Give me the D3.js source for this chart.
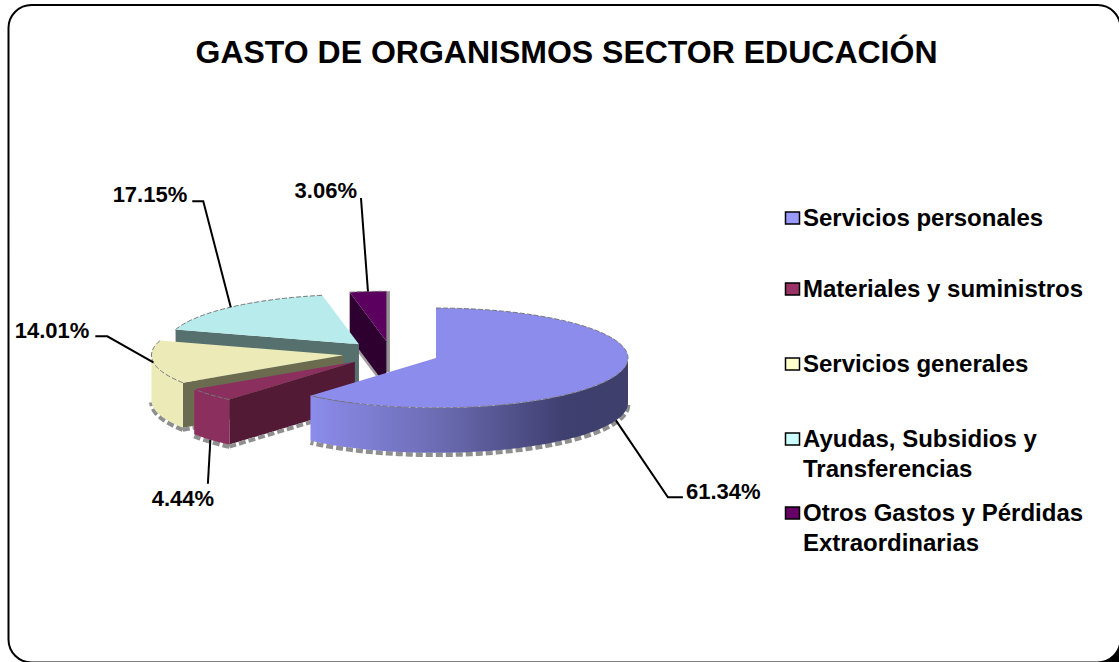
<!DOCTYPE html>
<html lang="es">

<head>
    <meta charset="utf-8">
    <title>Gasto de organismos sector educación</title>
    <script src="https://d3js.org/d3.v7.min.js"></script>
    <style>
        html, body { margin: 0; padding: 0; background: #fff; overflow: hidden; }
        svg { display: block; }
        text { font-family: "Liberation Sans", Arial, sans-serif; font-weight: bold; fill: #000; }
    </style>
</head>

<body>
    <div id="chart"></div>
    <script>
        // values
        var categories = ["Servicios personales", "Materiales y suministros", "Servicios generales", "Ayudas, Subsidios y Transferencias", "Otros Gastos y Pérdidas Extraordinarias"]
        var values = [61.34, 4.44, 14.01, 17.15, 3.06]
        var legendLines = [["Servicios personales"], ["Materiales y suministros"], ["Servicios generales"], ["Ayudas, Subsidios y", "Transferencias"], ["Otros Gastos y Pérdidas", "Extraordinarias"]]
        var topColors = ["#8c8cec", "#8a2f5e", "#ecebb8", "#b8ecec", "#5c0060"]
        var cutColors = ["#45457a", "#521a35", "#6b6b50", "#56706e", "#2d0030"]
        var legendColors = ["#9999ff", "#993366", "#ffffcc", "#ccffff", "#660066"]

        // where each label sits, relative to the point of the slice its leader starts from
        var labelLayout = [
            { elbow: [52, 77], end: [67, 77], text: [70, 71], anchor: "start", onWall: true },
            { elbow: [-2.5, 44], end: [-2.5, 44], text: [-27.5, 59], anchor: "middle", onWall: true },
            { elbow: [-46, -26], end: [-58, -26], text: [-64, -32], anchor: "end", onWall: false },
            { elbow: [-27.5, -106], end: [-38.5, -106], text: [-43.5, -113], anchor: "end", onWall: false },
            { elbow: [-7, -93.5], end: [-7, -93.5], text: [-11, -101.5], anchor: "end", onWall: false }
        ]

        var width = 1119
        var height = 662

        var cx = 391
        var cy = 353.6
        var rx = 192
        var tilt = 0.26
        var explode = 48
        var depth = 45

        var svg = d3.select("#chart")
            .append("svg")
            .attr("width", width)
            .attr("height", height)

        // the black bit left outside the rounded corner at bottom right
        svg.append("rect")
            .attr("x", 1095).attr("y", 638)
            .attr("width", 24).attr("height", 24)
            .attr("fill", "#000")

        // card border, runs off the right and bottom of the picture
        svg.append("rect")
            .attr("x", 8.5).attr("y", 5)
            .attr("width", 1112).attr("height", 657.5)
            .attr("rx", 23).attr("ry", 23)
            .attr("fill", "#fff")
            .attr("stroke", "#000")
            .attr("stroke-width", 2)

        svg.append("text")
            .attr("x", 566.5).attr("y", 63)
            .attr("text-anchor", "middle")
            .style("font-size", "32px")
            .text("GASTO DE ORGANISMOS SECTOR EDUCACIÓN")

        var defs = svg.append("defs")

        // wall shading runs across the pie from light on the left to dark on the right
        var blueWall = defs.append("linearGradient").attr("id", "wall0")
            .attr("gradientUnits", "userSpaceOnUse")
            .attr("x1", 310).attr("x2", 627).attr("y1", 0).attr("y2", 0)
        blueWall.append("stop").attr("offset", 0).attr("stop-color", "#8c8cec")
        blueWall.append("stop").attr("offset", 0.4).attr("stop-color", "#6c6cb4")
        blueWall.append("stop").attr("offset", 0.8).attr("stop-color", "#3f3f70")
        blueWall.append("stop").attr("offset", 1).attr("stop-color", "#3f3f6c")

        var pie = d3.pie().sort(null).startAngle(0).endAngle(2 * Math.PI)
        var line = d3.line()

        var slices = pie(values).map(function(d, i) {
            var mid = (d.startAngle + d.endAngle) / 2
            return {
                i: i,
                a: d.startAngle,
                b: d.endAngle,
                mid: mid,
                ox: cx + explode * Math.sin(mid),
                oy: cy - explode * Math.cos(mid) * tilt
            }
        })

        function rim(s, t) {
            return [s.ox + rx * Math.sin(t), s.oy - rx * tilt * Math.cos(t)]
        }

        function arcPoints(s, a, b) {
            var n = Math.max(2, Math.ceil((b - a) / 0.02))
            return d3.range(n + 1).map(function(k) { return rim(s, a + (b - a) * k / n) })
        }

        function drop(p, dy) { return [p[0], p[1] + dy] }

        // back to front so nearer slices cover the ones behind
        ;[4, 3, 2, 1, 0].forEach(function(i) {
            var s = slices[i]
            var g = svg.append("g")
            var apex = [s.ox, s.oy]

            var wallA = Math.max(s.a, Math.PI / 2)
            var wallB = Math.min(s.b, 3 * Math.PI / 2)
            var wall = wallB > wallA ? arcPoints(s, wallA, wallB) : null

            // blocky grey shadow under the walls
            if (wall) {
                var low = wall.map(function(p) { return drop(p, depth + 2) })
                g.append("path")
                    .attr("d", line(low))
                    .attr("fill", "none")
                    .attr("stroke", "#8f8f8f")
                    .attr("stroke-width", 4.5)
                    .attr("stroke-dasharray", "7 3")
            }

            // grey edge down the end of the small back slice, and under its cut
            if (i === 4) {
                var endTop = rim(s, s.b)
                g.append("path")
                    .attr("d", line([[endTop[0] + 1.5, endTop[1]], [endTop[0] + 1.5, apex[1] + depth - 14]]))
                    .attr("fill", "none")
                    .attr("stroke", "#909090")
                    .attr("stroke-width", 4)
                g.append("path")
                    .attr("d", line([drop(rim(s, s.a), depth + 2), drop(apex, depth + 2)]))
                    .attr("fill", "none")
                    .attr("stroke", "#a0a0a0")
                    .attr("stroke-width", 2.5)
            }

            // the straight cut that faces the viewer
            if (Math.sin(s.a) < -0.001) {
                var p = rim(s, s.a)
                g.append("path")
                    .attr("d", line([apex, p, drop(p, depth), drop(apex, depth)]) + "Z")
                    .attr("fill", cutColors[i])
                if (i !== 4) {
                    g.append("path")
                        .attr("d", line([drop(p, depth + 2), drop(apex, depth + 2)]))
                        .attr("fill", "none")
                        .attr("stroke", "#8f8f8f")
                        .attr("stroke-width", 4)
                        .attr("stroke-dasharray", "7 3")
                }
            }

            if (wall) {
                var back = wall.map(function(p) { return drop(p, depth) }).reverse()
                g.append("path")
                    .attr("d", line(wall.concat(back)) + "Z")
                    .attr("fill", i === 0 ? "url(#wall0)" : topColors[i])
            }

            // top face
            var top = [apex].concat(arcPoints(s, s.a, s.b))
            g.append("path")
                .attr("d", line(top) + "Z")
                .attr("fill", topColors[i])
            g.append("path")
                .attr("d", line(arcPoints(s, s.a, s.b)))
                .attr("fill", "none")
                .attr("stroke", "#777")
                .attr("stroke-width", 1)
                .attr("stroke-dasharray", "5 2")
        })

        // leaders and value labels
        slices.forEach(function(s, i) {
            var l = labelLayout[i]
            var start = rim(s, s.mid)
            if (l.onWall) start = drop(start, depth)
            svg.append("path")
                .attr("d", line([start, [start[0] + l.elbow[0], start[1] + l.elbow[1]], [start[0] + l.end[0], start[1] + l.end[1]]]))
                .attr("fill", "none")
                .attr("stroke", "#000")
                .attr("stroke-width", 2)
            svg.append("text")
                .attr("x", start[0] + l.text[0])
                .attr("y", start[1] + l.text[1])
                .attr("dy", "0.35em")
                .attr("text-anchor", l.anchor)
                .style("font-size", "22px")
                .text(values[i].toFixed(2) + "%")
        })

        // legend
        var legendY = [218, 289, 364, 439, 513]
        var legend = svg.selectAll(".legend")
            .data(categories)
            .enter()
            .append("g")
            .attr("class", "legend")
            .attr("transform", function(d, i) { return "translate(784," + legendY[i] + ")" })

        legend.append("rect")
            .attr("x", 1.5).attr("y", -6)
            .attr("width", 14).attr("height", 12)
            .attr("fill", function(d, i) { return legendColors[i] })
            .attr("stroke", "#000")
            .attr("stroke-width", 1.5)

        legend.each(function(d, i) {
            var t = d3.select(this)
            legendLines[i].forEach(function(txt, k) {
                t.append("text")
                    .attr("x", 19)
                    .attr("y", k * 29.5)
                    .attr("dy", "0.35em")
                    .style("font-size", "24px")
                    .text(txt)
            })
        })
    </script>
</body>

</html>
